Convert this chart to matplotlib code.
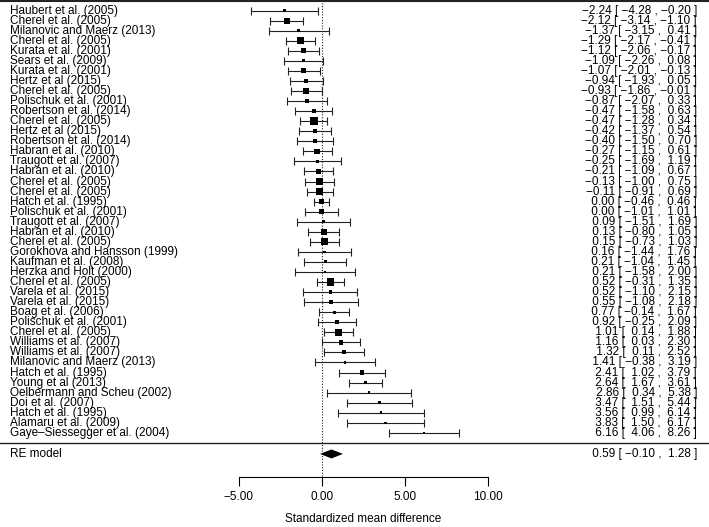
import matplotlib.pyplot as plt
import numpy as np

plt.rcParams['font.family'] = ['Liberation Sans', 'DejaVu Sans']

studies = [
    "Haubert et al. (2005)", "Cherel et al. (2005)", "Milanovic and Maerz (2013)",
    "Cherel et al. (2005)", "Kurata et al. (2001)", "Sears et al. (2009)",
    "Kurata et al. (2001)", "Hertz et al (2015)", "Cherel et al. (2005)",
    "Polischuk et al. (2001)", "Robertson et al. (2014)", "Cherel et al. (2005)",
    "Hertz et al (2015)", "Robertson et al. (2014)", "Habran et al. (2010)",
    "Traugott et al. (2007)", "Habran et al. (2010)", "Cherel et al. (2005)",
    "Cherel et al. (2005)", "Hatch et al. (1995)", "Polischuk et al. (2001)",
    "Traugott et al. (2007)", "Habran et al. (2010)", "Cherel et al. (2005)",
    "Gorokhova and Hansson (1999)", "Kaufman et al. (2008)", "Herzka and Holt (2000)",
    "Cherel et al. (2005)", "Varela et al. (2015)", "Varela et al. (2015)",
    "Boag et al. (2006)", "Polischuk et al. (2001)", "Cherel et al. (2005)",
    "Williams et al. (2007)", "Williams et al. (2007)", "Milanovic and Maerz (2013)",
    "Hatch et al. (1995)", "Young et al (2013)", "Oelbermann and Scheu (2002)",
    "Doi et al. (2007)", "Hatch et al. (1995)", "Alamaru et al. (2009)",
    "Gaye–Siessegger et al. (2004)",
]
est = [-2.24, -2.12, -1.37, -1.29, -1.12, -1.09, -1.07, -0.94, -0.93, -0.87,
       -0.47, -0.47, -0.42, -0.40, -0.27, -0.25, -0.21, -0.13, -0.11, 0.00,
       0.00, 0.09, 0.13, 0.15, 0.16, 0.21, 0.21, 0.52, 0.52, 0.55,
       0.77, 0.92, 1.01, 1.16, 1.32, 1.41, 2.41, 2.64, 2.86, 3.47,
       3.56, 3.83, 6.16]
lower = [-4.28, -3.14, -3.15, -2.17, -2.06, -2.26, -2.01, -1.93, -1.86, -2.07,
         -1.58, -1.28, -1.37, -1.50, -1.15, -1.69, -1.09, -1.00, -0.91, -0.46,
         -1.01, -1.51, -0.80, -0.73, -1.44, -1.04, -1.58, -0.31, -1.10, -1.08,
         -0.14, -0.25, 0.14, 0.03, 0.11, -0.38, 1.02, 1.67, 0.34, 1.51,
         0.99, 1.50, 4.06]
upper = [-0.20, -1.10, 0.41, -0.41, -0.17, 0.08, -0.13, 0.05, -0.01, 0.33,
         0.63, 0.34, 0.54, 0.70, 0.61, 1.19, 0.67, 0.75, 0.69, 0.46,
         1.01, 1.69, 1.05, 1.03, 1.76, 1.45, 2.00, 1.35, 2.15, 2.18,
         1.67, 2.09, 1.88, 2.30, 2.52, 3.19, 3.79, 3.61, 5.38, 5.44,
         6.14, 6.17, 8.26]
# study weights (%)
weights = [1.2, 3.35, 1.5, 4.0, 2.75, 1.5, 2.75, 2.4, 3.35, 2.4,
           2.1, 4.3, 2.4, 2.1, 3.05, 1.5, 2.75, 4.0, 4.0, 2.4,
           2.4, 1.5, 3.05, 4.0, 1.2, 1.5, 1.2, 4.3, 1.8, 1.8,
           1.5, 2.4, 4.0, 2.4, 2.1, 1.2, 2.4, 1.5, 1.2, 1.2,
           1.2, 1.2, 1.2]
re_est, re_lower, re_upper = 0.59, -0.10, 1.28
xticks = [-5, 0, 5, 10]

est = np.array(est)
lower = np.array(lower)
upper = np.array(upper)
weights = np.array(weights)
n = len(est)
rows = np.arange(n, 0, -1)


def fmt(v):
    return f"{v:5.2f}".replace("-", "\u2212")


fig = plt.figure(figsize=(7.09, 5.27), dpi=100)
ax = fig.add_axes([0, 0, 1, 1])
ax.set_xlim(-19.38, 23.33)
ax.set_ylim(-8.37, 44.06)

fs = 8.5
# confidence intervals
ax.errorbar(est, rows, xerr=[est - lower, upper - est], fmt='none',
            ecolor='#222222', elinewidth=0.8, capsize=3.2, capthick=0.8)
# squares sized by weight (metafor style: linear 0.5..1.5)
wn = (weights - weights.min()) / (weights.max() - weights.min())
side_pt = (2.5 + 5.0 * wn) * 0.72
ax.scatter(est, rows, marker='s', s=side_pt ** 2, color='black', zorder=3,
           linewidths=0)

# summary diamond
y_re = -1.1
ax.fill([re_lower, re_est, re_upper, re_est], [y_re, y_re + 0.45, y_re, y_re - 0.45],
        color='black', lw=0)

# labels and annotations
for r, name, e, lo, hi in zip(rows, studies, est, lower, upper):
    ax.text(-18.77, r, name, ha='left', va='center', fontsize=fs)
    ax.text(22.61, r, f"{fmt(e)} [ {fmt(lo)} , {fmt(hi)} ]", ha='right',
            va='center', fontsize=fs)
ax.text(-18.77, y_re, "RE model", ha='left', va='center', fontsize=fs)
ax.text(22.61, y_re, f"{fmt(re_est)} [ {fmt(re_lower)} , {fmt(re_upper)} ]",
        ha='right', va='center', fontsize=fs)

# reference lines
ax.axhline(43.97, color='#222222', lw=1.5)
ax.axhline(-0.02, color='#222222', lw=1.0)
ax.plot([0, 0], [44.06, -3.43], color='#222222', lw=0.8, ls=(0, (1, 1.5)))

# x axis
for side in ['left', 'right', 'top']:
    ax.spines[side].set_visible(False)
ax.spines['bottom'].set_position(('data', -3.43))
ax.spines['bottom'].set_bounds(-5, 10)
ax.spines['bottom'].set_linewidth(0.8)
ax.set_yticks([])
ax.set_xticks(xticks)
ax.set_xticklabels([fmt(t).strip() for t in xticks], fontsize=fs)
ax.tick_params(axis='x', direction='out', length=6.5, width=0.8, pad=3)
ax.text(2.5, -7.6, "Standardized mean difference", ha='center', va='center',
        fontsize=fs)

fig.savefig('out.png', dpi=100)
